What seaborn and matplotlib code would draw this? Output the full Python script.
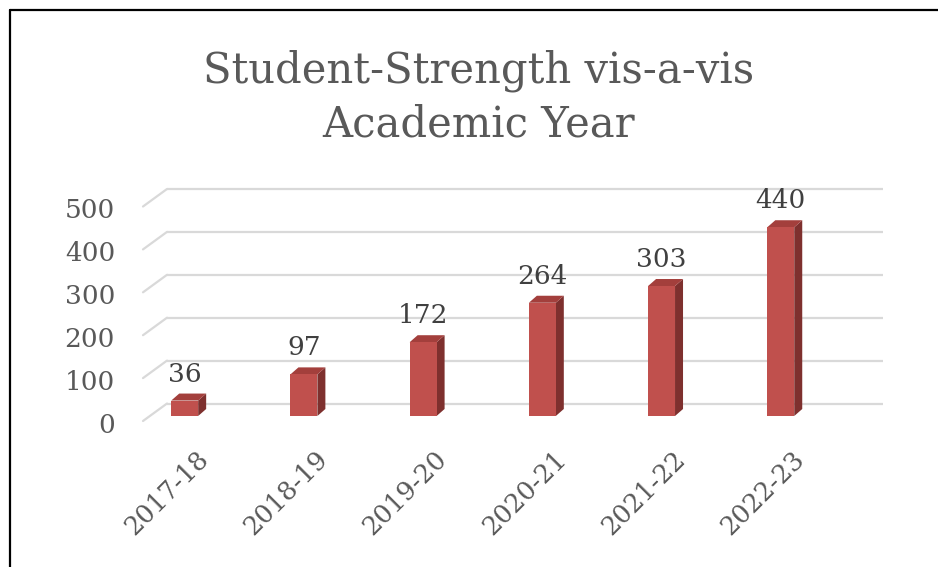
import matplotlib
matplotlib.use("Agg")
import matplotlib.pyplot as plt
import matplotlib.transforms as mtransforms
from matplotlib.patches import Polygon
from matplotlib.lines import Line2D
import seaborn as sns

# ── Data ─────────────────────────────────────────────────────────────────────
years    = ["2017-18", "2018-19", "2019-20", "2020-21", "2021-22", "2022-23"]
students = [36, 97, 172, 264, 303, 440]
y_ticks  = [0, 100, 200, 300, 400, 500]
title_lines = ["Student-Strength vis-a-vis", "Academic Year"]

# ── Style ────────────────────────────────────────────────────────────────────
FRONT  = "#C0504D"
SIDE   = "#7E302E"
TOP    = "#A33F3C"
GRID   = "#D9D9D9"
TXT    = "#595959"
LABEL  = "#404040"
DPI    = 100
W, H   = 938, 567

sns.set_theme(style="white")
plt.rcParams["font.family"] = ["DejaVu Serif"]

fig = plt.figure(figsize=(W / DPI, H / DPI), dpi=DPI)
# axes = front plane of the 3-D chart, in pixels
ax_left, ax_right, ax_bottom, ax_top = 145, 861, 416, 201.5
ax = fig.add_axes([ax_left / W, 1 - ax_bottom / H,
                   (ax_right - ax_left) / W, (ax_bottom - ax_top) / H])
ax.set_xlim(-0.333, 5.673)
ax.set_ylim(0, 500)
ax.axis("off")


def px(dx, dy):
    """offset in pixels (dy upward)"""
    return mtransforms.ScaledTranslation(dx / DPI, dy / DPI, fig.dpi_scale_trans)


# back wall gridlines + little floor stubs on the left
back = ax.transData + px(22, 12.5)
x0, x1 = ax.get_xlim()
for v in y_ticks:
    ax.plot([x0, x1], [v, v], color=GRID, lw=1.6, transform=back,
            clip_on=False, zorder=1, solid_capstyle="butt")
    p0 = (ax.transData + px(-2, -5)).transform((x0, v))
    p1 = back.transform((x0, v))
    fig.add_artist(Line2D([p0[0] / W, p1[0] / W], [p0[1] / H, p1[1] / H],
                          color=GRID, lw=1.6, transform=fig.transFigure))

# front faces
sns.barplot(x=years, y=students, color=FRONT, width=0.226, saturation=1,
            linewidth=0, ax=ax, zorder=3)
ax.set_xlim(x0, x1)
ax.set_ylim(0, 500)
ax.axis("off")

# depth of each column in data units
cat_px  = (ax_right - ax_left) / (x1 - x0)
unit_px = (ax_bottom - ax_top) / 500
ddx, ddy = 8 / cat_px, 7 / unit_px

for bar in ax.patches:
    bx, bw, bh = bar.get_x(), bar.get_width(), bar.get_height()
    side = [(bx + bw, 0), (bx + bw + ddx, ddy), (bx + bw + ddx, bh + ddy), (bx + bw, bh)]
    top = [(bx, bh), (bx + ddx, bh + ddy), (bx + bw + ddx, bh + ddy), (bx + bw, bh)]
    ax.add_patch(Polygon(side, closed=True, color=SIDE, lw=0, zorder=2.9, clip_on=False))
    ax.add_patch(Polygon(top, closed=True, color=TOP, lw=0, zorder=2.9, clip_on=False))

# data labels
for i, v in enumerate(students):
    ax.text(i, v, str(v), ha="center", va="baseline", fontsize=19, color=LABEL,
            transform=ax.transData + px(0, 19), zorder=5)

# y tick labels
ylab_tr = mtransforms.blended_transform_factory(ax.transAxes, ax.transData)
for v in y_ticks:
    ax.text(0, v, str(v), ha="right", va="baseline", fontsize=19, color=TXT,
            transform=ylab_tr + px(-30, -17))

# x tick labels
for i, lab in enumerate(years):
    ax.text(i, 0, lab, ha="right", va="center", rotation=45,
            rotation_mode="anchor", fontsize=18.5, color=TXT,
            transform=ax.transData + px(20, -39))

# title
fig.text(479 / W, 1 - 82 / H, title_lines[0], ha="center", va="baseline",
         fontsize=30, color=TXT)
fig.text(479 / W, 1 - 137 / H, title_lines[1], ha="center", va="baseline",
         fontsize=30, color=TXT)

# outer frame (top and left edges visible)
fig.add_artist(Line2D([10 / W, 1], [1 - 10 / H, 1 - 10 / H], color="black", lw=1.6))
fig.add_artist(Line2D([10 / W, 10 / W], [0, 1 - 10 / H], color="black", lw=1.6))

fig.savefig("out.png", dpi=DPI)
